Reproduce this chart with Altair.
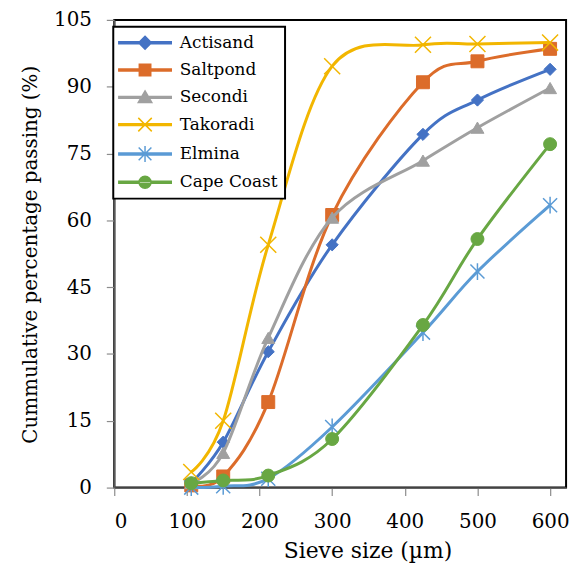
import altair as alt
import pandas as pd

# ---------------- data ----------------
sieve_sizes = [106, 150, 212, 300, 425, 500, 600]
series_names = ["Actisand", "Saltpond", "Secondi", "Takoradi", "Elmina", "Cape Coast"]
actisand = [1.0, 10.2, 30.5, 54.5, 79.3, 87.0, 93.9]
saltpond = [0.5, 2.5, 19.2, 61.2, 91.0, 95.7, 98.5]
secondi = [1.0, 7.8, 33.6, 60.6, 73.4, 80.8, 89.7]
takoradi = [3.5, 15.0, 54.5, 94.6, 99.4, 99.6, 99.9]
elmina = [0.0, 0.3, 2.0, 13.6, 34.8, 48.5, 63.4]
cape_coast = [1.0, 1.6, 2.7, 10.9, 36.5, 55.8, 77.1]
x_ticks = [0, 100, 200, 300, 400, 500, 600]
y_ticks = [0, 15, 30, 45, 60, 75, 90, 105]

# ---------------- styles ----------------
colors = ["#4472C4", "#DC6C2A", "#A0A0A0", "#F2B600", "#5B9BD5", "#68A743"]
filled = [True, True, True, False, False, True]
X_PATH = "M-1,-1L1,1M-1,1L1,-1"
AST_PATH = "M-1,-1L1,1M-1,1L1,-1M0,-1.2L0,1.2"
shapes = ["diamond", "square", "triangle-up", X_PATH, AST_PATH, "circle"]
marker_sizes = [150, 170, 170, 260, 200, 170]

LINE = "M-3.3,-0.12L3.3,-0.12L3.3,0.12L-3.3,0.12Z"
legend_shapes = [
    LINE + "M0,-0.8L0.8,0L0,0.8L-0.8,0Z",
    LINE + "M-0.72,-0.72L0.72,-0.72L0.72,0.72L-0.72,0.72Z",
    LINE + "M0,-0.8L0.85,0.65L-0.85,0.65Z",
    LINE + "M-0.85,-0.85L0.85,0.85M-0.85,0.85L0.85,-0.85",
    LINE + "M-0.8,-0.8L0.8,0.8M-0.8,0.8L0.8,-0.8M0,-1L0,1",
    LINE + "M-0.75,0A0.75,0.75 0 1,0 0.75,0A0.75,0.75 0 1,0 -0.75,0Z",
]

all_values = [actisand, saltpond, secondi, takoradi, elmina, cape_coast]
rows = []
for name, vals in zip(series_names, all_values):
    for s, v in zip(sieve_sizes, vals):
        rows.append({"series": name, "size": s, "passing": v})
df = pd.DataFrame(rows)

FONT = "DejaVu Serif"

x_enc = alt.X(
    "size:Q",
    scale=alt.Scale(domain=[0, 622], nice=False, zero=False),
    axis=alt.Axis(
        values=x_ticks, title="Sieve size (µm)", grid=False,
        titleX=255, titleY=63, titleAlign="center", titleBaseline="middle",
        titleFontSize=22, labelPadding=16,
    ),
)
y_enc = alt.Y(
    "passing:Q",
    scale=alt.Scale(domain=[0, 105], nice=False),
    axis=alt.Axis(
        values=y_ticks, title="Cummulative percentage passing (%)", grid=False,
        titleX=-84, titleY=236, titleAlign="center", titleBaseline="middle",
        titleAngle=270, titleFontSize=20, labelPadding=15,
    ),
)

base = alt.Chart(df)

# invisible layer that only carries the legend
legend_layer = base.mark_point(filled=True, opacity=0).encode(
    x=x_enc, y=y_enc,
    stroke=alt.Stroke("series:N", scale=alt.Scale(domain=series_names, range=colors)),
    fill=alt.Fill("series:N", scale=alt.Scale(domain=series_names, range=colors)),
    shape=alt.Shape(
        "series:N",
        scale=alt.Scale(domain=series_names, range=legend_shapes),
        legend=alt.Legend(
            title=None, orient="none", legendX=-1, legendY=7,
            padding=7, rowPadding=8.5, symbolOffset=16, labelOffset=26,
            symbolSize=256, symbolStrokeWidth=1.5, symbolOpacity=1,
            strokeColor="black", fillColor="white",
            labelFont=FONT, labelFontSize=17, labelColor="black",
        ),
    ),
)

layers = [legend_layer]
for name, col, fl, shp, ms in zip(series_names, colors, filled, shapes, marker_sizes):
    sub = base.transform_filter(alt.datum.series == name)
    layers.append(
        sub.mark_line(interpolate="cardinal", strokeWidth=3, color=col).encode(x=x_enc, y=y_enc)
    )
    if fl:
        pm = sub.mark_point(shape=shp, size=ms, filled=True, fill=col, stroke=col,
                            strokeWidth=1, opacity=1)
    else:
        pm = sub.mark_point(shape=shp, size=ms, filled=False, stroke=col,
                            strokeWidth=1.5, opacity=1)
    layers.append(pm.encode(x=x_enc, y=y_enc))

chart = (
    alt.layer(*layers)
    .properties(
        width=455, height=471,
        padding={"left": 107, "top": 10, "right": 10, "bottom": 78},
        autosize=alt.AutoSizeParams(type="none"),
    )
    .configure_view(stroke="black", strokeWidth=2)
    .configure_axis(
        labelFont=FONT, labelFontSize=20, labelColor="black",
        titleFont=FONT, titleColor="black", titleFontWeight="normal",
        domainColor="#595959", domainWidth=1.5,
        tickColor="#8c8c8c", tickSize=8, tickWidth=1.2,
    )
    .configure_legend(strokeWidth=2)
)

chart.save("out.html", embed_options={"renderer": "svg", "actions": False})
